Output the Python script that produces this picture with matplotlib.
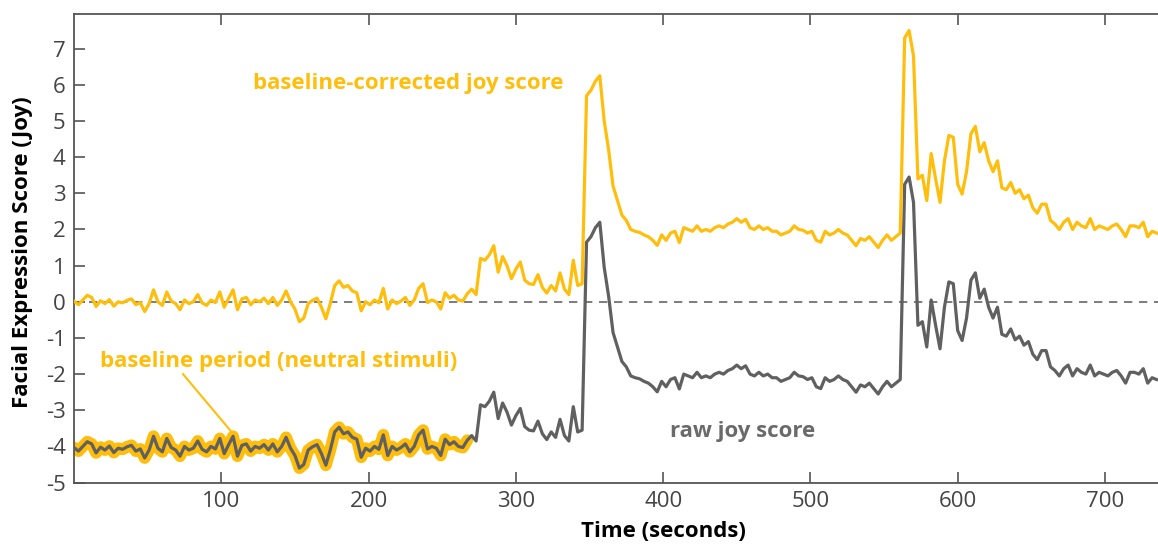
import numpy as np
import matplotlib
matplotlib.use("Agg")
import matplotlib.pyplot as plt

plt.rcParams['font.family'] = ['Open Sans', 'DejaVu Sans']
plt.rcParams['axes.unicode_minus'] = False

# time grid (seconds), one sample every 3 s
seconds = np.arange(0, 736, 3)

# baseline-corrected joy score
joy_corrected = [
    0.02, -0.08, 0.05, 0.18, 0.12, -0.13, 0.03, -0.05, 0.06, -0.12,
    0.0, -0.03, 0.04, 0.08, -0.08, -0.02, -0.27, -0.05, 0.33, 0.0,
    -0.1, 0.27, 0.02, -0.05, -0.22, 0.05, -0.05, 0.0, 0.2, -0.03,
    -0.1, 0.05, -0.02, 0.27, -0.15, 0.1, 0.33, -0.22, 0.08, 0.12,
    -0.08, 0.05, 0.0, 0.1, -0.05, 0.12, -0.1, 0.05, 0.3, 0.0,
    -0.2, -0.55, -0.45, -0.05, 0.04, 0.1, -0.15, -0.47, -0.05, 0.45,
    0.58, 0.4, 0.45, 0.3, 0.25, -0.25, 0.0, -0.08, 0.05, -0.03,
    0.37, -0.2, 0.05, -0.05, 0.02, 0.12, -0.1, 0.05, 0.37, 0.5,
    -0.02, 0.05, 0.0, -0.2, 0.25, 0.1, 0.18, 0.05, 0.02, 0.22,
    0.35, 0.2, 1.2, 1.15, 1.3, 1.55, 0.82, 1.25, 1.0, 0.64,
    0.9, 1.1, 0.6, 0.5, 0.48, 0.75, 0.4, 0.24, 0.45, 0.3,
    0.8, 0.35, 0.2, 1.15, 0.45, 0.5, 5.7, 5.85, 6.1, 6.25,
    5.0, 4.2, 3.2, 2.8, 2.4, 2.25, 2.0, 1.95, 1.92, 1.85,
    1.8, 1.7, 1.56, 1.85, 1.7, 1.9, 1.95, 1.64, 2.05, 2.0,
    1.95, 2.1, 1.95, 2.0, 1.95, 2.05, 2.1, 2.05, 2.15, 2.2,
    2.3, 2.2, 2.28, 2.05, 2.0, 2.1, 2.0, 2.05, 1.95, 1.95,
    1.85, 1.9, 1.95, 2.1, 2.0, 1.98, 1.9, 1.95, 1.7, 1.65,
    1.95, 1.85, 1.9, 2.0, 1.9, 1.85, 1.7, 1.55, 1.75, 1.7,
    1.8, 1.65, 1.5, 1.7, 1.85, 1.7, 1.8, 1.9, 7.3, 7.5,
    6.8, 3.4, 3.5, 2.8, 4.1, 3.4, 2.75, 3.9, 4.6, 4.55,
    3.25, 2.98, 3.6, 4.65, 4.85, 4.15, 4.4, 3.9, 3.6, 3.9,
    3.15, 3.1, 3.3, 3.0, 3.1, 2.85, 2.95, 2.6, 2.45, 2.7,
    2.7, 2.25, 2.15, 2.0, 2.2, 2.3, 2.0, 2.2, 2.1, 2.05,
    2.3, 2.0, 2.1, 2.05, 2.0, 2.1, 2.15, 2.0, 1.8, 2.1,
    2.1, 2.05, 2.2, 1.8, 1.95, 1.9,
]

baseline_level = -4.05   # mean raw score during the neutral period
baseline_end = 267        # seconds

joy_corrected = np.array(joy_corrected)
joy_raw = joy_corrected + baseline_level
in_base = seconds <= baseline_end

yellow = '#FFBE0B'
gray = '#606060'

fig = plt.figure(figsize=(11.58, 5.44), dpi=100)
ax = fig.add_axes([74 / 1158, 0.1129, 1084 / 1158, 0.8614])

ax.axhline(0, color='#666666', lw=1.2, ls=(0, (5, 4)), zorder=1)

# glow around the raw score in the baseline period
ax.plot(seconds[in_base], joy_raw[in_base], color=yellow, lw=8.5,
        solid_capstyle='round', solid_joinstyle='round', zorder=2)
ax.plot(seconds, joy_raw, color=gray, lw=2.3, zorder=3)
ax.plot(seconds, joy_corrected, color=yellow, lw=2.3, zorder=4)

ax.text(227, 6.05, 'baseline-corrected joy score', color=yellow,
        fontsize=16, fontweight='bold', ha='center', va='center')
ax.text(139, -1.66, 'baseline period (neutral stimuli)', color=yellow,
        fontsize=16, fontweight='bold', ha='center', va='center')
ax.plot([74, 107], [-2.0, -3.6], color=yellow, lw=1.5, zorder=5)
ax.text(454, -3.6, 'raw joy score', color='#6a6a6a',
        fontsize=16, fontweight='bold', ha='center', va='center')

ax.set_xlim(0, 736)
ax.set_ylim(-5, 7.96)
ax.set_xticks([100, 200, 300, 400, 500, 600, 700])
ax.set_yticks(range(-5, 8))
ax.tick_params(direction='in', length=8, width=1.2, color='#555555',
               labelcolor='#444444', labelsize=16, top=True, pad=6)
for side in ['left', 'bottom', 'top']:
    ax.spines[side].set_color('#555555')
    ax.spines[side].set_linewidth(1.3)
ax.spines['right'].set_visible(False)

ax.set_xlabel('Time (seconds)', fontsize=16, fontweight='bold')
ax.xaxis.set_label_coords(0.544, -0.082)
ax.set_ylabel('Facial Expression Score (Joy)', fontsize=16, fontweight='bold')
ax.yaxis.set_label_coords(-0.038, 0.492)

fig.savefig('out.png', dpi=100)
